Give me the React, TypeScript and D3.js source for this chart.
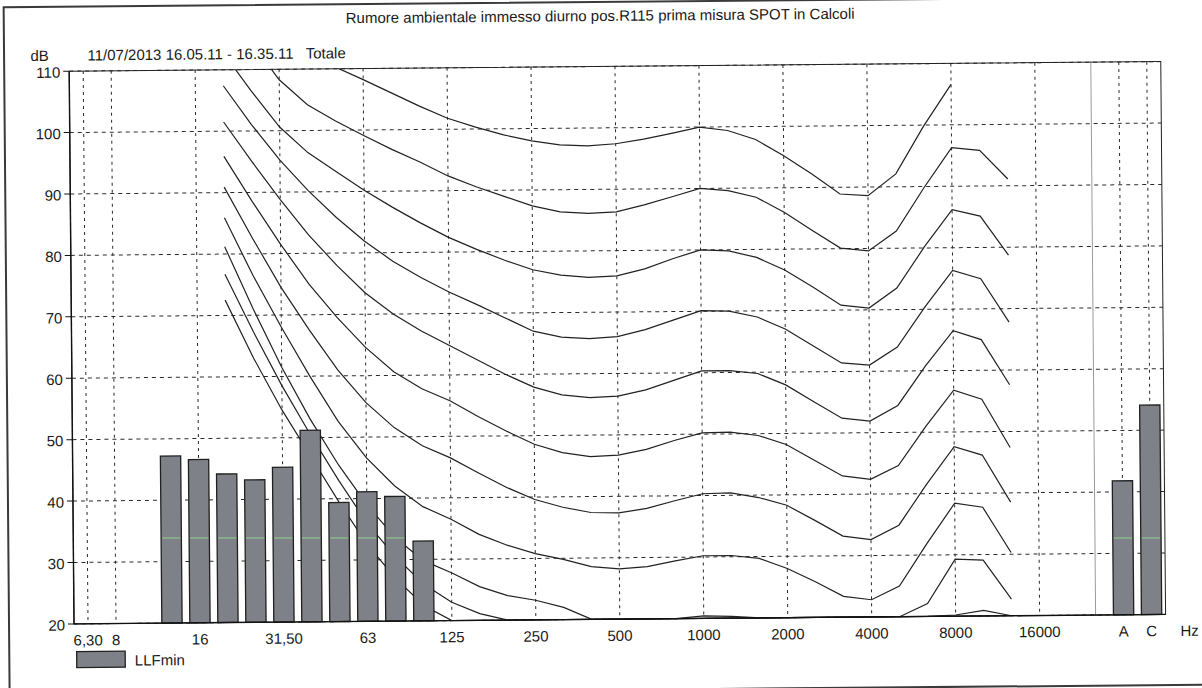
import React from "react";
import * as d3 from "d3";

// ---------- data ----------
const categories = [
  "6,30", "8", "10", "12,5", "16", "20", "25", "31,50", "40", "50", "63", "80", "100",
  "125", "160", "200", "250", "315", "400", "500", "630", "800", "1000", "1250", "1600",
  "2000", "2500", "3150", "4000", "5000", "6300", "8000", "10000", "12500", "16000",
  "20000", "sep", "A", "C",
];
const tickLabels = ["6,30", "8", "16", "31,50", "63", "125", "250", "500", "1000", "2000", "4000", "8000", "16000", "A", "C"];
const yTicks = [20, 30, 40, 50, 60, 70, 80, 90, 100, 110];

const barBands = ["12,5", "16", "20", "25", "31,50", "40", "50", "63", "80", "100", "A", "C"];
const barValues = [47.2, 46.6, 44.2, 43.2, 45.2, 51.2, 39.4, 41.1, 40.3, 33.0, 41.8, 54.1];

const curveBands = [
  "20", "25", "31,50", "40", "50", "63", "80", "100", "125", "160", "200", "250", "315", "400",
  "500", "630", "800", "1000", "1250", "1600", "2000", "2500", "3150", "4000", "5000", "6300",
  "8000", "10000", "12500",
];
const phon100 = [128, 122, 117, 113.5, 110.3, 108.2, 106.0, 103.8, 101.8, 100.3, 99.0, 98.0, 97.3, 97.1, 97.4, 98.1, 99.0, 100.0, 99.4, 97.9, 95.2, 92.2, 88.9, 88.6, 92.1, 99.8, 106.6, null, null];
const phon90 = [121, 114.5, 108.3, 104.2, 101.5, 99.1, 96.8, 94.7, 92.4, 90.6, 89.0, 87.4, 86.4, 86.1, 86.3, 87.4, 88.7, 90.0, 89.6, 88.5, 86.0, 83.0, 80.1, 79.6, 82.8, 89.8, 96.3, 95.8, 91.1];
const phon80 = [112.8, 106.5, 100.6, 96.4, 93.3, 90.2, 87.4, 84.8, 82.4, 80.4, 78.6, 77.0, 76.1, 75.7, 75.9, 77.0, 78.6, 80.0, 79.8, 78.7, 76.6, 73.8, 70.8, 70.3, 73.5, 80.2, 86.2, 85.1, 78.7];
const phon70 = [107.4, 101.0, 95.2, 90.2, 85.8, 81.9, 78.6, 75.9, 73.5, 71.4, 69.2, 67.0, 66.0, 65.7, 66.0, 67.1, 68.6, 70.1, 70.0, 69.0, 67.0, 64.2, 61.4, 61.0, 63.9, 70.4, 76.3, 74.9, 67.8];
const phon60 = [101.5, 95.0, 88.8, 83.0, 78.0, 73.5, 70.0, 67.2, 64.8, 62.4, 60.0, 57.9, 56.6, 56.1, 56.3, 57.3, 58.8, 60.3, 60.3, 59.8, 57.9, 55.1, 52.4, 51.9, 54.4, 60.8, 66.5, 65.0, 57.6];
const phon50 = [95.9, 88.5, 81.5, 75.0, 69.5, 64.6, 60.6, 57.8, 55.8, 53.2, 50.8, 48.6, 47.2, 46.5, 46.7, 47.6, 49.0, 50.2, 50.3, 49.7, 48.2, 45.6, 43.0, 42.4, 44.6, 51.0, 56.8, 55.3, 47.4];
const phon40 = [90.9, 82.5, 74.5, 67.5, 61.0, 55.6, 51.5, 48.5, 46.5, 44.0, 41.6, 39.6, 38.3, 37.4, 37.3, 38.0, 39.2, 40.3, 40.4, 39.6, 38.3, 35.8, 33.2, 32.6, 34.9, 41.5, 47.6, 46.2, 38.5];
const phon30 = [85.9, 76.5, 68.0, 60.0, 52.6, 46.6, 42.0, 38.6, 36.5, 34.0, 32.2, 30.8, 29.8, 28.6, 28.2, 28.5, 29.4, 30.2, 30.2, 29.7, 28.0, 25.8, 23.4, 22.8, 25.0, 31.9, 38.4, 37.7, 30.3];
const phon20 = [81.2, 71.0, 61.5, 53.0, 45.5, 39.0, 33.6, 29.8, 27.8, 25.5, 24.0, 23.2, 22.0, 20.0, 19.4, 19.5, 20.0, 20.4, 20.3, 19.6, 18.0, 15.8, 13.5, 13.0, 17.9, 22.1, 29.3, 29.1, 22.7];
const phon10 = [76.7, 67.3, 58.5, 50.5, 43.0, 36.0, 30.5, 26.0, 23.0, 21.1, 17.5, 15.5, 13.5, 12.0, 11.0, 10.6, 10.5, 10.6, 10.4, 9.5, 8.0, 5.8, 3.5, 3.2, 7.5, 13.5, 20.2, 20.9, 19.6];
const phon0 = [72.5, 63.0, 54.5, 47.0, 39.5, 32.5, 27.0, 22.5, 19.5, 16.5, 13.5, 11.2, 9.0, 7.2, 6.0, 5.0, 4.4, 4.2, 3.7, 2.6, 1.0, -1.2, -3.6, -3.9, -1.1, 6.6, 15.3, 16.4, 11.6];
const curves = [phon100, phon90, phon80, phon70, phon60, phon50, phon40, phon30, phon20, phon10, phon0];

const title = "Rumore ambientale immesso diurno pos.R115 prima misura SPOT in Calcoli";
const subtitle = "11/07/2013 16.05.11 - 16.35.11   Totale";
const legendLabel = "LLFmin";

// ---------- layout ----------
const W = 1202;
const H = 688;
const left = 71.6;
const right = 1163.2;
const top = 66.5;
const bottom = 619.3;
const FONT = "'Liberation Sans', Arial, sans-serif";
const ROT = -0.5;
const RC = [601, 344];
const scanLineY = 538;

export default function App() {
  const x = d3.scaleBand<string>().domain(categories).range([left, right]).paddingInner(0.275).paddingOuter(0.1375);
  const cx = (c: string) => (x(c) as number) + x.bandwidth() / 2;
  const y = d3.scaleLinear().domain([20, 110]).range([bottom, top]);

  const line = d3
    .line<number | null>()
    .defined((d) => d !== null)
    .x((_, i) => cx(curveBands[i]))
    .y((d) => y(Math.max(d as number, 20)));

  const gridColor = "#2a2a2a";
  const sepX = cx("sep");
  const s = Math.sin((-ROT * Math.PI) / 180);
  const shiftX = (scanLineY - RC[1]) * s;

  return (
    <svg width={W} height={H} style={{ position: "absolute", left: 0, top: 0, background: "#fff" }} fontFamily={FONT}>
      <defs>
        <clipPath id="plotClip">
          <rect x={left} y={top} width={right - left} height={bottom - top + 1} />
        </clipPath>
      </defs>
      <g transform={`rotate(${ROT} ${RC[0]} ${RC[1]})`}>
        {/* outer frame */}
        <rect x={6.6} y={2} width={1215} height={688} fill="none" stroke="#3a3a3a" strokeWidth={2} />

        <text x={603} y={21} textAnchor="middle" fontSize={15} fill="#1a1a1a">{title}</text>
        <text x={33} y={56} fontSize={15} fill="#1a1a1a">dB</text>
        <text x={90} y={56} fontSize={15} fill="#1a1a1a" style={{ whiteSpace: "pre" }}>{subtitle}</text>

        {/* horizontal gridlines */}
        {yTicks.map((t) => (
          <line key={"h" + t} x1={left} x2={right} y1={y(t)} y2={y(t)} stroke={gridColor} strokeWidth={1} strokeDasharray="4,4" />
        ))}
        {/* vertical gridlines */}
        {tickLabels.map((t) => (
          <line key={"v" + t} x1={cx(t)} x2={cx(t)} y1={top} y2={bottom} stroke={gridColor} strokeWidth={1} strokeDasharray="3,4" />
        ))}
        <line x1={sepX} x2={sepX} y1={top} y2={bottom} stroke="#9a9a9a" strokeWidth={1} />

        {/* curves */}
        <g clipPath="url(#plotClip)">
          {curves.map((c, k) => (
            <path key={"c" + k} d={line(c) || ""} fill="none" stroke="#222" strokeWidth={1.2} />
          ))}
        </g>

        {/* bars */}
        {barBands.map((b, i) => (
          <rect key={"b" + b} x={x(b)} y={y(barValues[i])} width={x.bandwidth()} height={bottom - y(barValues[i])} fill="#7e8187" stroke="#202020" strokeWidth={1.3} />
        ))}

        {/* plot frame */}
        <rect x={left} y={top} width={right - left} height={bottom - top} fill="none" stroke="#222" strokeWidth={1} />
        <line x1={left} x2={right} y1={bottom} y2={bottom} stroke="#111" strokeWidth={1.4} />
        <line x1={left} x2={left} y1={top} y2={bottom} stroke="#111" strokeWidth={1.4} />

        {/* y axis ticks and labels */}
        {yTicks.map((t) => (
          <g key={"yt" + t}>
            <line x1={left - 6} x2={left} y1={y(t)} y2={y(t)} stroke="#111" strokeWidth={1} />
            <text x={left - 9} y={y(t) + 6.5} textAnchor="end" fontSize={15} fill="#1a1a1a">{t}</text>
          </g>
        ))}

        {/* x labels */}
        {tickLabels.map((t) => (
          <text key={"xt" + t} x={cx(t)} y={641} textAnchor="middle" fontSize={15} fill="#1a1a1a">{t}</text>
        ))}
        <text x={1187} y={641} textAnchor="middle" fontSize={15} fill="#1a1a1a">Hz</text>

        {/* legend */}
        <rect x={74} y={647} width={48.5} height={16} fill="#7e8187" stroke="#202020" strokeWidth={1.3} />
        <text x={132} y={661.5} fontSize={15} fill="#1a1a1a">{legendLabel}</text>
      </g>

      {/* faint green horizontal scan streak, visible only on the bars */}
      {barBands.map((b, i) => {
        const yTopScreen = y(barValues[i]);
        if (yTopScreen > scanLineY - 3) return null;
        const x0 = (x(b) as number) + shiftX;
        return (
          <line key={"g" + b} x1={x0 + 1} x2={x0 + x.bandwidth() - 1} y1={scanLineY} y2={scanLineY} stroke="#8fcf8f" strokeWidth={1.3} opacity={0.8} />
        );
      })}
    </svg>
  );
}
